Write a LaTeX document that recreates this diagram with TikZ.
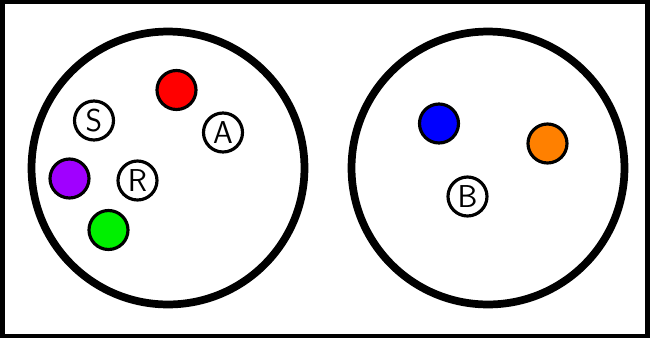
\documentclass[tikz,border=0pt]{standalone}
\usepackage{tikz}
\usetikzlibrary{positioning}
\definecolor{ink}{HTML}{000000}
\definecolor{dotred}{HTML}{FF0000}
\definecolor{dotviolet}{HTML}{A000FF}
\definecolor{dotgreen}{HTML}{00F000}
\definecolor{dotblue}{HTML}{0000FF}
\definecolor{dotorange}{HTML}{FF8000}

\begin{document}
\begin{tikzpicture}[x=0.02cm,y=-0.02cm,font=\sffamily\fontsize{18}{20}\selectfont,
  setring/.style={circle,draw=ink,line width=4.4pt,minimum size=5.46cm,inner sep=0pt},
  dot/.style={circle,draw=ink,line width=1.8pt,minimum size=0.78cm,inner sep=0pt},
  letter/.style={dot,fill=white,text=ink}]
\useasboundingbox (0,0) rectangle (650,339);
% frame
\draw[ink,line width=2.8pt] (2.5,1.5) rectangle (647.5,336);
% the two sets
\node[setring] (leftset) at (168,168) {};
\node[setring] (rightset) at (488,168) {};
% left set
\node[dot,fill=dotred] (red) at (176.5,90) {};
\node[letter] (s) at (94,120.5) {S};
\node[letter] (a) at (223,132.5) {A};
\node[dot,fill=dotviolet] (violet) at (69.5,178.5) {};
\node[letter] (r) at (137.5,180.5) {R};
\node[dot,fill=dotgreen] (green) at (108.5,230) {};
% right set
\node[dot,fill=dotblue] (blue) at (439,123.5) {};
\node[dot,fill=dotorange] (orange) at (547.5,143.5) {};
\node[letter] (b) at (467.5,196.5) {B};
\end{tikzpicture}
\end{document}
